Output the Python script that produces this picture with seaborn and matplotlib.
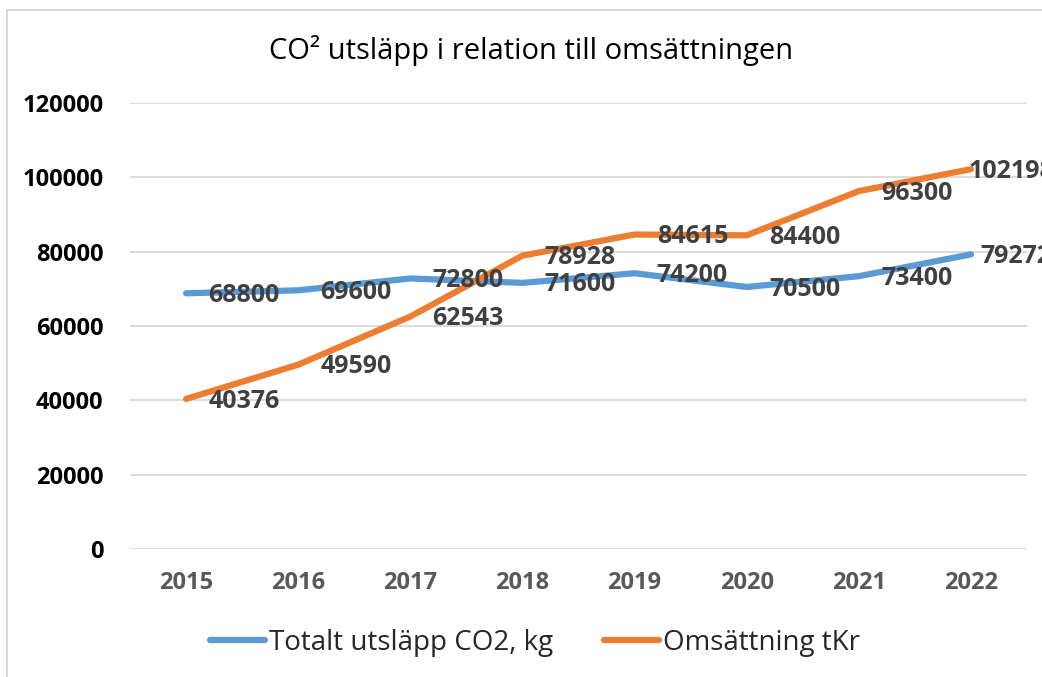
import pandas as pd
import matplotlib
matplotlib.use('Agg')
import matplotlib.pyplot as plt
import seaborn as sns
from matplotlib.patches import Rectangle

years = [2015, 2016, 2017, 2018, 2019, 2020, 2021, 2022]
utslapp = [68800, 69600, 72800, 71600, 74200, 70500, 73400, 79272]
omsattning = [40376, 49590, 62543, 78928, 84615, 84400, 96300, 102198]
series_names = ['Totalt utsläpp CO2, kg', 'Omsättning tKr']
y_ticks = [0, 20000, 40000, 60000, 80000, 100000, 120000]
title = 'CO² utsläpp i relation till omsättningen'

df = pd.DataFrame({
    'year': years * 2,
    'value': utslapp + omsattning,
    'serie': [series_names[0]] * len(years) + [series_names[1]] * len(years),
})

sns.set_style('white')
plt.rcParams['font.family'] = ['Open Sans', 'DejaVu Sans']

colors = {series_names[0]: '#5B9BD5', series_names[1]: '#ED7D31'}

fig = plt.figure(figsize=(10.42, 6.77), dpi=100)
ax = fig.add_axes([130 / 1042, 1 - 549 / 677, (1027 - 130) / 1042, (549 - 103) / 677])

sns.lineplot(data=df, x='year', y='value', hue='serie', palette=colors,
             linewidth=4.5, ax=ax, legend=False, solid_capstyle='round',
             solid_joinstyle='round')

ax.set_xlim(years[0] - 0.5, years[-1] + 0.5)
ax.set_ylim(y_ticks[0], y_ticks[-1])
ax.set_xticks(years)
ax.set_xticklabels([str(y) for y in years], fontsize=17, fontweight='bold', color='#595959')
ax.set_yticks(y_ticks)
ax.set_yticklabels([str(t) for t in y_ticks], fontsize=17, fontweight='bold', color='black')
ax.tick_params(axis='x', length=0, pad=16)
ax.tick_params(axis='y', length=0, pad=19)
ax.set_xlabel('')
ax.set_ylabel('')
ax.grid(axis='y', color='#D9D9D9', linewidth=1.3)
ax.set_axisbelow(True)
for s in ax.spines.values():
    s.set_visible(False)

# datalabels till höger om punkterna (sista flyttas in som i Excel)
for vals, last_dx in ((utslapp, 7), (omsattning, -1.5)):
    for i, (x, v) in enumerate(zip(years, vals)):
        dx = last_dx if i == len(years) - 1 else 16
        ax.annotate(str(v), (x, v), xytext=(dx, -1.5), textcoords='offset points',
                    ha='left', va='center', fontsize=18, fontweight='bold',
                    color='#404040', annotation_clip=False)

fig.text(531 / 1042, 1 - 50 / 677, title, ha='center', va='center',
         fontsize=21, color='black')

handles = [plt.Line2D([], [], color=colors[n], linewidth=4.5, solid_capstyle='round')
           for n in series_names]
fig.legend(handles, series_names, loc='center', bbox_to_anchor=(535 / 1042, 1 - 643 / 677),
           ncol=2, frameon=False, fontsize=20, handlelength=2.0, handletextpad=0.15,
           columnspacing=1.8)

# ram runt diagrammet
fig.patches.append(Rectangle((7 / 1042, -0.1), 1.2, 1.1 - 10 / 677,
                             transform=fig.transFigure, fill=False,
                             edgecolor='#D9D9D9', linewidth=1.5))

plt.savefig('out.png', dpi=100)
